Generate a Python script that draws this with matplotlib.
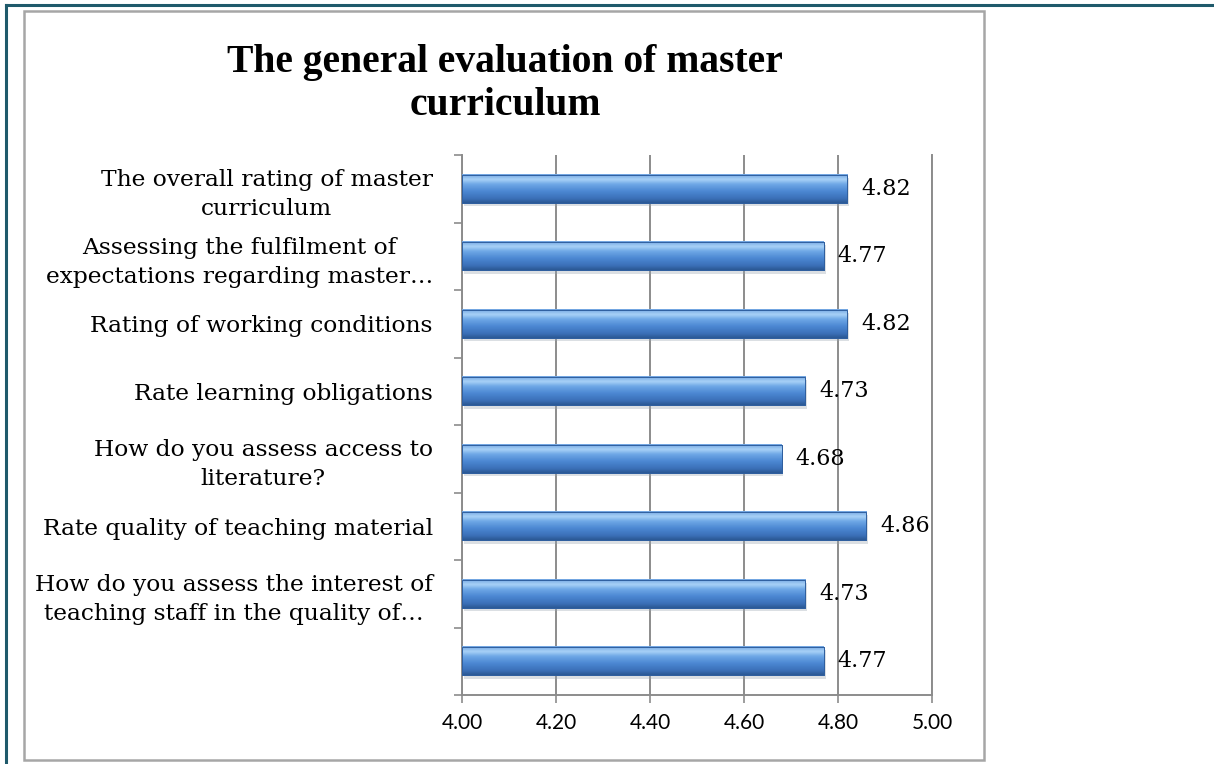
import numpy as np
import matplotlib.pyplot as plt
from matplotlib.colors import LinearSegmentedColormap
from matplotlib.patches import Rectangle
from matplotlib.lines import Line2D

# Data (top to bottom as shown)
categories = [
    "The overall rating of master\ncurriculum",
    "Assessing the fulfilment of\nexpectations regarding master\u2026",
    "Rating of working conditions",
    "Rate learning obligations",
    "How do you assess access to\nliterature?",
    "Rate quality of teaching material",
    "How do you assess the interest of\nteaching staff in the quality of\u2026",
    "",
]
values = [4.82, 4.77, 4.82, 4.73, 4.68, 4.86, 4.73, 4.77]
value_labels = ["4.82", "4.77", "4.82", "4.73", "4.68", "4.86", "4.73", "4.77"]
x_ticks = [4.0, 4.2, 4.4, 4.6, 4.8, 5.0]
x_tick_labels = ["4.00", "4.20", "4.40", "4.60", "4.80", "5.00"]
title = "The general evaluation of master\ncurriculum"

TITLE_FONT = ["Liberation Serif", "DejaVu Serif"]
SERIF = ["DejaVu Serif"]
SANS = ["Lato", "DejaVu Sans"]
GRID = "#8c8c8c"

fig = plt.figure(figsize=(12.14, 7.64), dpi=100)
fig.patch.set_facecolor("white")

# outer teal frame (top and left) and gray chart box
fig.add_artist(Line2D([0.005, 0.005], [0, 0.994], transform=fig.transFigure, color="#1f5a6b", lw=2.2))
fig.add_artist(Line2D([0.005, 1.0], [0.994, 0.994], transform=fig.transFigure, color="#1f5a6b", lw=2.2))
fig.add_artist(Rectangle((24 / 1214, 4 / 764), (984 - 24) / 1214, (753 - 4) / 764,
                         transform=fig.transFigure, fill=False, edgecolor="#a6a6a6", lw=1.8))

ax = fig.add_axes([462 / 1214, 1 - 695 / 764, 470 / 1214, 540 / 764])
y = np.arange(len(values))
bar_h = 0.42

bars = ax.barh(y, np.array(values) - 4.0, left=4.0, height=bar_h, color="#4a86d0",
               edgecolor="#2f5f9f", linewidth=0.6, zorder=3)

# glossy vertical gradient inside each bar
cmap = LinearSegmentedColormap.from_list(
    "gloss", [(0.0, "#6fa3e0"), (0.18, "#a9d2f7"), (0.35, "#6ea7e6"),
              (0.6, "#4b87d2"), (0.85, "#3b70b8"), (1.0, "#2b5894")])
grad = np.linspace(0, 1, 64).reshape(-1, 1)
for b in bars:
    x0, y0 = b.get_x(), b.get_y()
    w, h = b.get_width(), b.get_height()
    # shadow below the bar
    ax.add_patch(Rectangle((x0 + 0.004, y0 + 0.05), w, h, color="#9aa4b0", alpha=0.35, zorder=2, lw=0))
    ax.imshow(grad, cmap=cmap, aspect="auto", extent=(x0, x0 + w, y0 + h, y0),
              zorder=3.5, interpolation="bicubic")
    ax.add_patch(Rectangle((x0, y0), w, h, fill=False, edgecolor="#2f5f9f", lw=0.7, zorder=4))

for yi, v, lab in zip(y, values, value_labels):
    ax.annotate(lab, (v, yi), xytext=(10, 0), textcoords="offset points",
                va="center", ha="left", fontsize=16, family=SERIF, color="black", zorder=5)

ax.set_xlim(4.0, 5.0)
ax.set_ylim(len(values) - 0.5, -0.5)
ax.set_xticks(x_ticks)
ax.set_xticklabels(x_tick_labels, fontsize=15, family=SANS)
ax.tick_params(axis="x", length=6, width=1.2, color=GRID, pad=7)

ax.set_yticks(y)
ax.set_yticklabels(categories, fontsize=16.8, family=SERIF, ha="right",
                   multialignment="center", linespacing=1.4)
ax.tick_params(axis="y", which="major", length=0, pad=21)
ax.set_yticks(np.arange(-0.5, len(values)), minor=True)
ax.tick_params(axis="y", which="minor", length=6, width=1.2, color=GRID)

ax.grid(axis="x", color=GRID, lw=1.4, zorder=1)
ax.set_axisbelow(True)
ax.spines["top"].set_visible(False)
for s in ["left", "bottom", "right"]:
    ax.spines[s].set_color(GRID)
    ax.spines[s].set_linewidth(1.4)

fig.text(505 / 1214, 1 - 84 / 764, title, ha="center", va="center", fontsize=28.5,
         fontweight="bold", family=TITLE_FONT, linespacing=1.2)

fig.savefig("out.png", dpi=100)
